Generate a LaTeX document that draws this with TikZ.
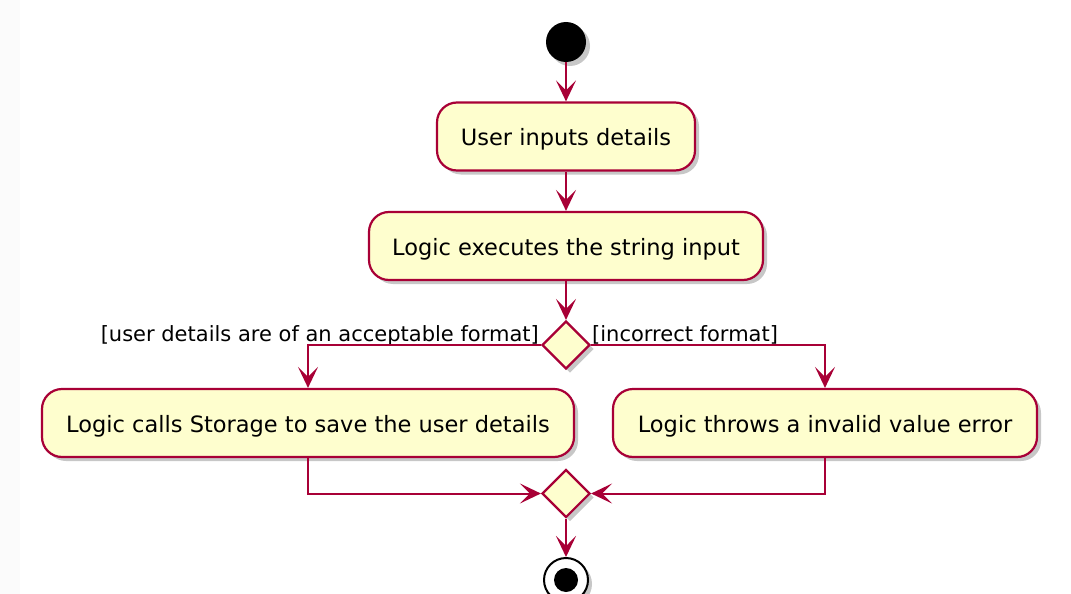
\documentclass[tikz,border=0pt]{standalone}
\usepackage{fontspec}
\setmainfont{DejaVu Sans}
\usetikzlibrary{shapes.geometric,arrows.meta,shadows}
\definecolor{umlred}{HTML}{A80036}
\definecolor{umlfill}{HTML}{FEFECE}
\begin{document}
\begin{tikzpicture}[x=1pt,y=-1pt,
  shad/.style={drop shadow={shadow xshift=4pt, shadow yshift=-4pt, opacity=0.22, fill=black}},
  act/.style={draw=umlred, fill=umlfill, line width=2.2pt, rounded corners=20pt,
    minimum height=68pt, inner xsep=4pt, text height=18pt, text depth=0pt,
    font=\fontsize{22.5}{27}\selectfont, shad},
  dec/.style={diamond, draw=umlred, fill=umlfill, line width=2.2pt, minimum width=48pt,
    minimum height=48pt, inner sep=0pt, shad},
  flow/.style={draw=umlred, line width=2pt, -{Stealth[length=21pt,width=20pt,inset=10pt]}},
  lab/.style={font=\fontsize{21}{25}\selectfont, inner sep=0pt}
]
\clip (0,0) rectangle (1071,594);
\fill[white] (0,0) rectangle (1071,594);
\fill[black!1.5] (0,0) rectangle (20,594);
\node[circle, fill=black, minimum size=40pt, inner sep=0pt, shad] (start) at (566,42) {};
\node[act, minimum width=258pt] (b1) at (566,136.5) {User inputs details};
\node[act, minimum width=394pt] (b2) at (566,246) {Logic executes the string input};
\node[dec] (d1) at (566,345) {};
\node[act, minimum width=532pt] (b3) at (308,423) {Logic calls Storage to save the user details};
\node[act, minimum width=424pt] (b4) at (825,423) {Logic throws a invalid value error};
\node[dec] (d2) at (566,493.5) {};
\node[circle, draw=black, fill=white, line width=2pt, minimum size=44pt, inner sep=0pt, shad] (end) at (566,580) {};
\node[circle, fill=black, minimum size=24pt, inner sep=0pt] (endin) at (end.center) {};
\node[lab, anchor=base east] (l1) at (539,341) {[user details are of an acceptable format]};
\node[lab, anchor=base west] (l2) at (592,341) {[incorrect format]};
\draw[flow] (start) -- (b1);
\draw[flow] (b1) -- (b2);
\draw[flow] (b2) -- (d1);
\draw[flow] (d1.west) -| (b3.north);
\draw[flow] (d1.east) -| (b4.north);
\draw[flow] (b3.south) |- (d2.west);
\draw[flow] (b4.south) |- (d2.east);
\draw[flow] (d2) -- (end);
\end{tikzpicture}
\end{document}
